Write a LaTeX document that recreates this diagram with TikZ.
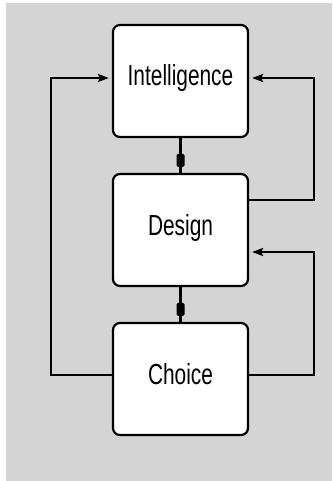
\documentclass[tikz,border=0pt]{standalone}
\usepackage{fontspec}
\newfontfamily\labfont[FakeStretch=0.72]{Liberation Sans}
\usetikzlibrary{arrows.meta,calc,decorations.markings}
\definecolor{bg}{RGB}{212,212,212}
\begin{document}
\begin{tikzpicture}[x=1pt,y=-1pt,
 box/.style={draw, fill=white, rounded corners=7pt, line width=2.2pt, minimum width=135pt, minimum height=112pt, inner sep=0pt, font=\labfont\fontsize{29}{29}\selectfont, text height=21pt, text depth=11pt},
 conn/.style={line width=2.2pt},
 tip/.style={-{Stealth[length=11pt,width=8pt,inset=2pt]}, shorten >=3pt},
 midmark/.style={postaction={decorate, decoration={markings, mark=at position 0.64 with {\fill[rounded corners=1.5pt] (-6.5,-4) rectangle (6.5,4);}}}},
]
\useasboundingbox (0,0) rectangle (332,481);
\fill[bg] (6,3) rectangle (332,481);
\node[box] (i) at (180.5,81) {Intelligence};
\node[box] (d) at (180.5,230) {Design};
\node[box] (c) at (180.5,379) {Choice};
\draw[conn,midmark] (i.south) -- (d.north);
\draw[conn,midmark] (d.south) -- (c.north);
\draw[conn,tip] ($(c.west)+(0,-4)$) -- ($(c.west)+(-61,-4)$) |- ($(i.west)+(0,-3)$);
\draw[conn,tip] ($(d.east)+(0,-30)$) -- ($(d.east)+(65,-30)$) |- ($(i.east)+(0,-3)$);
\draw[conn,tip] ($(c.east)+(0,-4)$) -- ($(c.east)+(65,-4)$) |- ($(d.east)+(0,22)$);
\end{tikzpicture}
\end{document}
